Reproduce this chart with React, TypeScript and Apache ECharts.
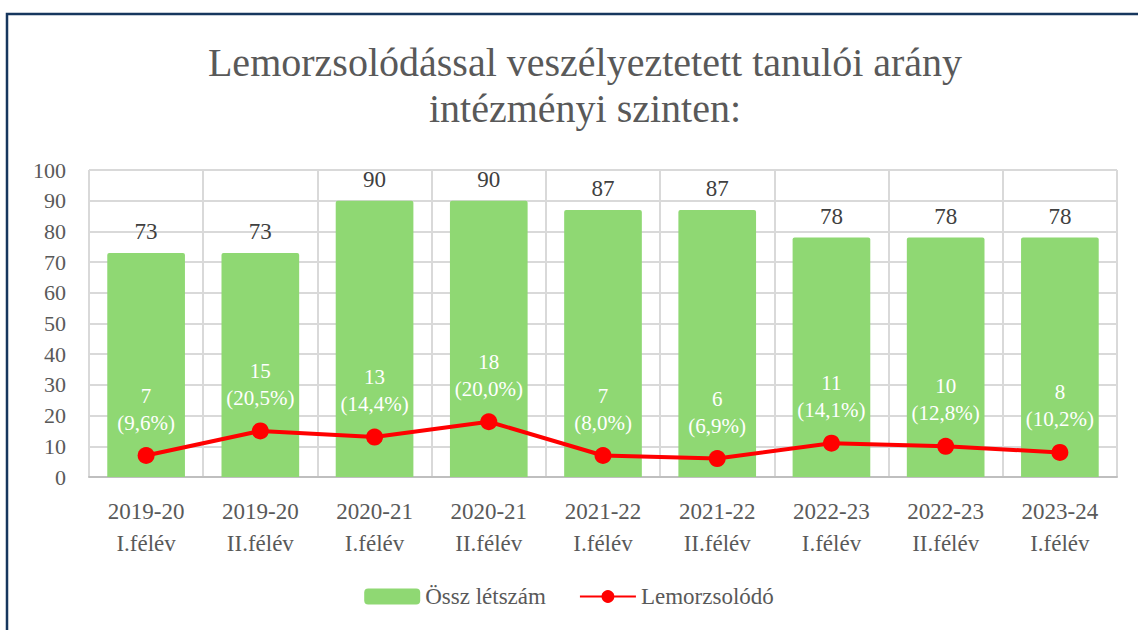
import React, { useEffect, useRef } from "react";
import * as echarts from "echarts";

const categories = [
  "2019-20\nI.félév",
  "2019-20\nII.félév",
  "2020-21\nI.félév",
  "2020-21\nII.félév",
  "2021-22\nI.félév",
  "2021-22\nII.félév",
  "2022-23\nI.félév",
  "2022-23\nII.félév",
  "2023-24\nI.félév",
];
const osszLetszam = [73, 73, 90, 90, 87, 87, 78, 78, 78];
const lemorzsolodo = [7, 15, 13, 18, 7, 6, 11, 10, 8];
const szazalek = ["9,6%", "20,5%", "14,4%", "20,0%", "8,0%", "6,9%", "14,1%", "12,8%", "10,2%"];

const FONT = '"Liberation Serif", "Times New Roman", serif';

export default function App() {
  const ref = useRef<HTMLDivElement>(null);
  useEffect(() => {
    if (!ref.current) return;
    const chart = echarts.init(ref.current, undefined, { renderer: "svg" });
    chart.setOption({
      animation: false,
      backgroundColor: "#ffffff",
      textStyle: { fontFamily: FONT },
      title: {
        text: "Lemorzsolódással veszélyeztetett tanulói arány\nintézményi szinten:",
        left: 580,
        textAlign: "center",
        top: 34,
        textStyle: {
          fontFamily: FONT,
          fontSize: 40,
          fontWeight: "normal",
          color: "#595959",
          lineHeight: 46,
        },
      },
      graphic: [
        {
          type: "rect",
          shape: { x: 7, y: 14, width: 1160, height: 660 },
          style: { fill: "none", stroke: "#17375E", lineWidth: 2.5 },
          silent: true,
        },
      ],
      legend: {
        bottom: 17,
        left: "center",
        itemWidth: 56,
        itemHeight: 16,
        itemGap: 33,
        textStyle: { fontFamily: FONT, fontSize: 23, color: "#595959" },
        data: ["Össz létszám", "Lemorzsolódó"],
      },
      grid: { left: 89, right: 21, top: 170, bottom: 153 },
      xAxis: {
        type: "category",
        data: categories,
        boundaryGap: true,
        axisTick: { show: false },
        axisLine: { show: true, lineStyle: { color: "#bfbfbf", width: 2 } },
        splitLine: { show: true, lineStyle: { color: "#d9d9d9", width: 2 } },
        axisLabel: {
          fontFamily: FONT,
          fontSize: 23,
          color: "#595959",
          lineHeight: 32,
          margin: 18,
          interval: 0,
        },
      },
      yAxis: {
        type: "value",
        min: 0,
        max: 100,
        interval: 10,
        axisLine: { show: false },
        axisTick: { show: false },
        splitLine: { show: true, lineStyle: { color: "#d9d9d9", width: 2 } },
        axisLabel: { fontFamily: FONT, fontSize: 22, color: "#595959", margin: 23 },
      },
      series: [
        {
          name: "Össz létszám",
          type: "bar",
          data: osszLetszam,
          barWidth: "68%",
          itemStyle: { color: "#8FD873", borderRadius: [2, 2, 0, 0] },
          label: {
            show: true,
            position: "top",
            distance: 10,
            fontFamily: FONT,
            fontSize: 23,
            color: "#404040",
          },
          z: 2,
        },
        {
          name: "Lemorzsolódó",
          type: "line",
          data: lemorzsolodo,
          symbol: "circle",
          symbolSize: 17,
          lineStyle: { color: "#FF0000", width: 4 },
          itemStyle: { color: "#FF0000" },
          label: {
            show: true,
            position: "top",
            distance: 11,
            fontFamily: FONT,
            fontSize: 21,
            color: "#ffffff",
            lineHeight: 27,
            align: "center",
            formatter: (p: any) => `${p.value}\n(${szazalek[p.dataIndex]})`,
          },
          z: 3,
        },
      ],
    });
    return () => chart.dispose();
  }, []);
  return (
    <div
      ref={ref}
      style={{ position: "fixed", left: 0, top: 0, width: 1138, height: 630 }}
    />
  );
}
